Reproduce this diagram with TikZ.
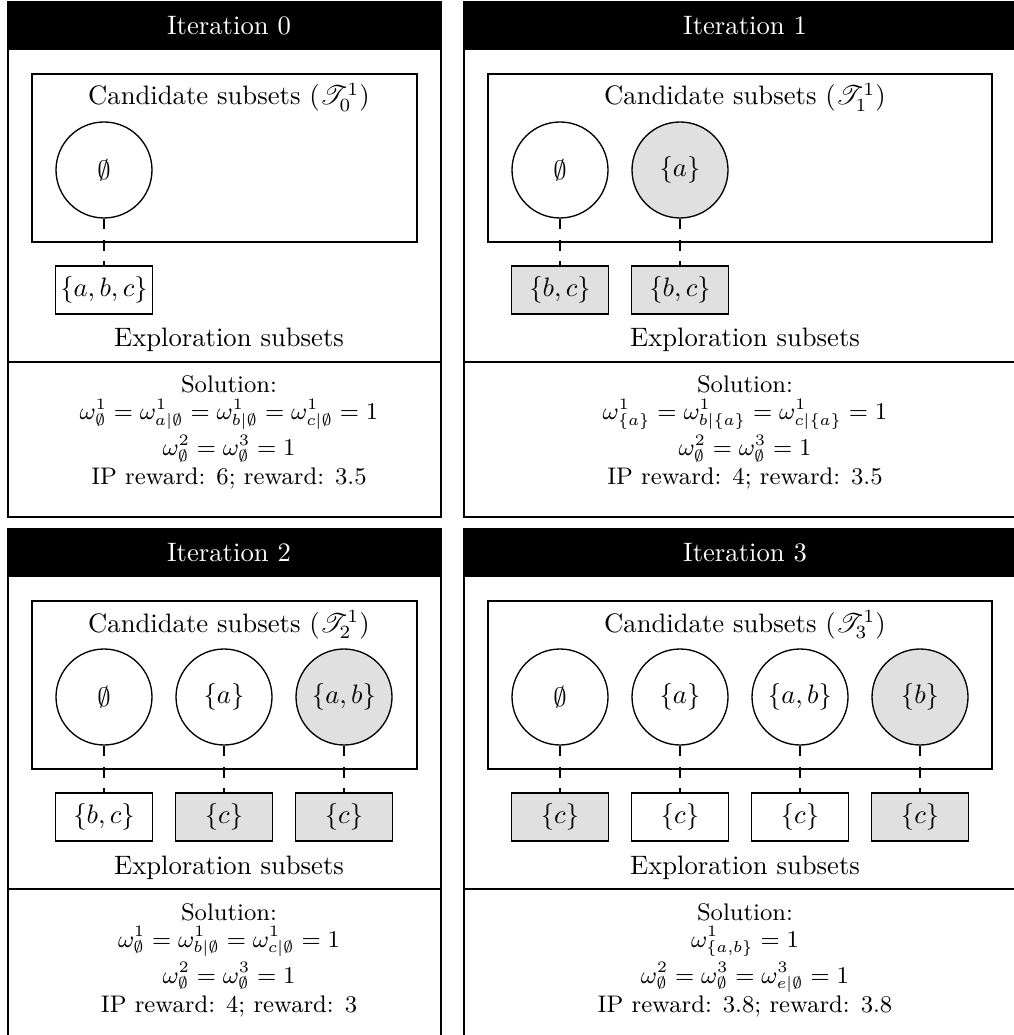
\documentclass[tikz,border=0pt]{standalone}
\usepackage{amsmath,amssymb,mathrsfs}
\definecolor{shade}{RGB}{224,224,224}
\begin{document}
\begin{tikzpicture}[x=0.375pt,y=-0.375pt,
  frame/.style={draw,line width=0.9pt},
  thinline/.style={line width=0.5pt},
  hdrtext/.style={text=white,font=\normalsize},
  subset/.style={circle,draw,line width=0.5pt,minimum size=36pt,inner sep=0pt},
  expl/.style={rectangle,draw,line width=0.5pt,minimum width=36.4pt,minimum height=18pt,inner sep=0pt},
  picked/.style={fill=shade},
  link/.style={line width=0.5pt,dash pattern=on 4pt off 4pt},
  basetext/.style={anchor=base},
  sol/.style={font=\small,anchor=base},
]
\useasboundingbox (0,0) rectangle (1013,1035);

% ---------------- Panel 0 ----------------
\fill[black] (8,2) rectangle (441,50);
\draw[frame] (8,2) rectangle (441,517);
\draw[thinline] (8,362) -- (441,362);
\draw[thinline] (32,74) rectangle (417,242);
\node[hdrtext] (h0) at (229,26) {Iteration 0};
\node[basetext] (t0) at (229,105) {Candidate subsets ($\mathscr{T}_0^1$)};
\node[subset] (c0a) at (104,170) {$\emptyset$};
\node[expl] (e0a) at (104,290) {$\{a,b,c\}$};
\draw[link] (c0a) -- (e0a);
\node[basetext] (x0) at (229,347) {Exploration subsets};
\node[sol] (s0a) at (229,393) {Solution:};
\node[sol] (s0b) at (229,420) {$\omega^1_{\emptyset}=\omega^1_{a|\emptyset}=\omega^1_{b|\emptyset}=\omega^1_{c|\emptyset}=1$};
\node[sol] (s0c) at (229,456) {$\omega^2_{\emptyset}=\omega^3_{\emptyset}=1$};
\node[sol] (s0d) at (229,485) {IP reward: 6; reward: 3.5};

% ---------------- Panel 1 ----------------
\fill[black] (464,2) rectangle (1016,50);
\draw[frame] (464,2) rectangle (1016,517);
\draw[thinline] (464,362) -- (1016,362);
\draw[thinline] (488,74) rectangle (992,242);
\node[hdrtext] (h1) at (745,26) {Iteration 1};
\node[basetext] (t1) at (745,105) {Candidate subsets ($\mathscr{T}_1^1$)};
\node[subset] (c1a) at (560,170) {$\emptyset$};
\node[subset,picked] (c1b) at (680,170) {$\{a\}$};
\node[expl,picked] (e1a) at (560,290) {$\{b,c\}$};
\node[expl,picked] (e1b) at (680,290) {$\{b,c\}$};
\draw[link] (c1a) -- (e1a);
\draw[link] (c1b) -- (e1b);
\node[basetext] (x1) at (745,347) {Exploration subsets};
\node[sol] (s1a) at (745,393) {Solution:};
\node[sol] (s1b) at (745,420) {$\omega^1_{\{a\}}=\omega^1_{b|\{a\}}=\omega^1_{c|\{a\}}=1$};
\node[sol] (s1c) at (745,456) {$\omega^2_{\emptyset}=\omega^3_{\emptyset}=1$};
\node[sol] (s1d) at (745,485) {IP reward: 4; reward: 3.5};

% ---------------- Panel 2 ----------------
\fill[black] (8,529) rectangle (441,577);
\draw[frame] (8,529) rectangle (441,1044);
\draw[thinline] (8,889) -- (441,889);
\draw[thinline] (32,601) rectangle (417,769);
\node[hdrtext] (h2) at (229,553) {Iteration 2};
\node[basetext] (t2) at (229,632) {Candidate subsets ($\mathscr{T}_2^1$)};
\node[subset] (c2a) at (104,697) {$\emptyset$};
\node[subset] (c2b) at (224,697) {$\{a\}$};
\node[subset,picked] (c2c) at (344,697) {$\{a,b\}$};
\node[expl] (e2a) at (104,817) {$\{b,c\}$};
\node[expl,picked] (e2b) at (224,817) {$\{c\}$};
\node[expl,picked] (e2c) at (344,817) {$\{c\}$};
\draw[link] (c2a) -- (e2a);
\draw[link] (c2b) -- (e2b);
\draw[link] (c2c) -- (e2c);
\node[basetext] (x2) at (229,874) {Exploration subsets};
\node[sol] (s2a) at (229,920) {Solution:};
\node[sol] (s2b) at (229,947) {$\omega^1_{\emptyset}=\omega^1_{b|\emptyset}=\omega^1_{c|\emptyset}=1$};
\node[sol] (s2c) at (229,983) {$\omega^2_{\emptyset}=\omega^3_{\emptyset}=1$};
\node[sol] (s2d) at (229,1012) {IP reward: 4; reward: 3};

% ---------------- Panel 3 ----------------
\fill[black] (464,529) rectangle (1016,577);
\draw[frame] (464,529) rectangle (1016,1044);
\draw[thinline] (464,889) -- (1016,889);
\draw[thinline] (488,601) rectangle (992,769);
\node[hdrtext] (h3) at (745,553) {Iteration 3};
\node[basetext] (t3) at (745,632) {Candidate subsets ($\mathscr{T}_3^1$)};
\node[subset] (c3a) at (560,697) {$\emptyset$};
\node[subset] (c3b) at (680,697) {$\{a\}$};
\node[subset] (c3c) at (800,697) {$\{a,b\}$};
\node[subset,picked] (c3d) at (920,697) {$\{b\}$};
\node[expl,picked] (e3a) at (560,817) {$\{c\}$};
\node[expl] (e3b) at (680,817) {$\{c\}$};
\node[expl] (e3c) at (800,817) {$\{c\}$};
\node[expl,picked] (e3d) at (920,817) {$\{c\}$};
\draw[link] (c3a) -- (e3a);
\draw[link] (c3b) -- (e3b);
\draw[link] (c3c) -- (e3c);
\draw[link] (c3d) -- (e3d);
\node[basetext] (x3) at (745,874) {Exploration subsets};
\node[sol] (s3a) at (745,920) {Solution:};
\node[sol] (s3b) at (745,947) {$\omega^1_{\{a,b\}}=1$};
\node[sol] (s3c) at (745,983) {$\omega^2_{\emptyset}=\omega^3_{\emptyset}=\omega^3_{e|\emptyset}=1$};
\node[sol] (s3d) at (745,1012) {IP reward: 3.8; reward: 3.8};
\end{tikzpicture}
\end{document}
